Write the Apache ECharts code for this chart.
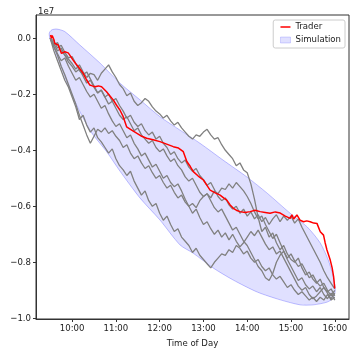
<!DOCTYPE html>
<html lang="en">
<head>
    <meta charset="utf-8">
    <title>Cumulative Wealth</title>
    <script src="https://cdn.jsdelivr.net/npm/echarts@6/dist/echarts.min.js"></script>
    <style>
        html, body { margin: 0; padding: 0; background: #fff; }
        #main { width: 354px; height: 354px; }
    </style>
</head>
<body>
<div id="main"></div>

<script type="text/javascript">
    // time in minutes after midnight, wealth in units of 1e7
    var xTicks = [600, 660, 720, 780, 840, 900, 960];
    var yTicks = [0, -0.2, -0.4, -0.6, -0.8, -1.0];

    // simulation band outline (upper edge forward, lower edge back)
    var simTime = [568.7, 572.1, 579, 590, 610.6, 638, 665.5, 693.1, 720.4, 747.9, 775.3, 806.9, 839.9, 867.3, 898.9, 922.3, 940.1, 951.1, 958, 960.7,
        958, 949.7, 930.5, 912.7, 885.2, 853.6, 820.6, 793.2, 765.7, 747.9, 720.4, 692.9, 665.5, 647.6, 624.3, 601, 583.1, 573.5, 569.4];
    var simWealth = [0.019, 0.030, 0.033, 0.024, -0.024, -0.088, -0.160, -0.220, -0.280, -0.328, -0.375, -0.435, -0.496, -0.553, -0.625, -0.674, -0.731, -0.792, -0.852, -0.899,
        -0.927, -0.942, -0.952, -0.952, -0.934, -0.906, -0.863, -0.820, -0.767, -0.738, -0.649, -0.570, -0.474, -0.406, -0.328, -0.210, -0.088, -0.024, 0.001];

    // simulated paths, one value every 5 minutes from 9:30 to 16:00
    var pathTime = [570, 575, 580, 585, 590, 595, 600, 605, 610, 615, 620, 625, 630, 635, 640, 645, 650, 655, 660, 665,
        670, 675, 680, 685, 690, 695, 700, 705, 710, 715, 720, 725, 730, 735, 740, 745, 750, 755, 760, 765,
        770, 775, 780, 785, 790, 795, 800, 805, 810, 815, 820, 825, 830, 835, 840, 845, 850, 855, 860, 865,
        870, 875, 880, 885, 890, 895, 900, 905, 910, 915, 920, 925, 930, 935, 940, 945, 950, 955, 960];
    var path1 = [0, -0.025, -0.015, -0.045, -0.06, -0.075, -0.09,
        -0.11, -0.095, -0.12, -0.14, -0.125, -0.13,
        -0.15, -0.125, -0.11, -0.095, -0.12, -0.14,
        -0.165, -0.18, -0.205, -0.195, -0.225, -0.24,
        -0.23, -0.215, -0.225, -0.245, -0.26, -0.27,
        -0.285, -0.275, -0.295, -0.31, -0.30, -0.32,
        -0.335, -0.35, -0.36, -0.345, -0.35, -0.335,
        -0.325, -0.345, -0.36, -0.355, -0.38, -0.40,
        -0.415, -0.43, -0.455, -0.445, -0.47, -0.48,
        -0.52, -0.575, -0.64, -0.69, -0.675, -0.71,
        -0.695, -0.73, -0.755, -0.74, -0.77, -0.79,
        -0.80, -0.785, -0.82, -0.845, -0.835, -0.86,
        -0.875, -0.86, -0.89, -0.905, -0.895, -0.92];
    var path2 = [0, -0.045, -0.08, -0.115, -0.15, -0.175, -0.21,
        -0.245, -0.29, -0.275, -0.31, -0.335, -0.32,
        -0.355, -0.37, -0.39, -0.41, -0.395, -0.43,
        -0.455, -0.47, -0.49, -0.475, -0.51, -0.535,
        -0.56, -0.545, -0.58, -0.60, -0.59, -0.625,
        -0.65, -0.635, -0.665, -0.69, -0.68, -0.71,
        -0.725, -0.74, -0.765, -0.75, -0.775, -0.79,
        -0.805, -0.82, -0.80, -0.785, -0.77, -0.775,
        -0.755, -0.765, -0.74, -0.75, -0.77, -0.76,
        -0.785, -0.80, -0.79, -0.815, -0.83, -0.82,
        -0.845, -0.86, -0.85, -0.87, -0.89, -0.88,
        -0.90, -0.915, -0.905, -0.92, -0.935, -0.925,
        -0.94, -0.925, -0.935, -0.915, -0.93, -0.91];
    var path3 = [0, -0.03, -0.06, -0.10, -0.13, -0.165, -0.20,
        -0.235, -0.275, -0.31, -0.345, -0.375, -0.35,
        -0.325, -0.335, -0.32, -0.34, -0.33, -0.35,
        -0.365, -0.39, -0.38, -0.41, -0.43, -0.42,
        -0.445, -0.465, -0.455, -0.48, -0.50, -0.49,
        -0.515, -0.535, -0.525, -0.55, -0.57, -0.56,
        -0.585, -0.60, -0.59, -0.605, -0.58, -0.565,
        -0.555, -0.57, -0.545, -0.555, -0.535, -0.54,
        -0.52, -0.535, -0.515, -0.53, -0.545, -0.565,
        -0.59, -0.62, -0.645, -0.635, -0.665, -0.69,
        -0.715, -0.70, -0.73, -0.76, -0.79, -0.815,
        -0.84, -0.865, -0.855, -0.88, -0.895, -0.885,
        -0.905, -0.89, -0.915, -0.93, -0.91, -0.935];
    var path4 = [0, -0.01, -0.035, -0.025, -0.05, -0.07, -0.065,
        -0.09, -0.115, -0.13, -0.12, -0.145, -0.17,
        -0.195, -0.185, -0.21, -0.235, -0.225, -0.25,
        -0.275, -0.29, -0.28, -0.305, -0.33, -0.32,
        -0.345, -0.36, -0.375, -0.365, -0.39, -0.405,
        -0.395, -0.42, -0.44, -0.43, -0.455, -0.47,
        -0.495, -0.51, -0.50, -0.525, -0.55, -0.565,
        -0.555, -0.58, -0.605, -0.62, -0.61, -0.635,
        -0.66, -0.685, -0.675, -0.70, -0.725, -0.74,
        -0.765, -0.79, -0.815, -0.83, -0.855, -0.865,
        -0.84, -0.80, -0.775, -0.76, -0.785, -0.77,
        -0.795, -0.815, -0.805, -0.83, -0.855, -0.845,
        -0.87, -0.885, -0.875, -0.90, -0.92, -0.90];
    var path5 = [0, -0.02, -0.045, -0.035, -0.06, -0.085, -0.10,
        -0.12, -0.11, -0.135, -0.16, -0.15, -0.175,
        -0.195, -0.185, -0.21, -0.20, -0.225, -0.215,
        -0.24, -0.26, -0.285, -0.275, -0.30, -0.315,
        -0.305, -0.33, -0.345, -0.335, -0.36, -0.35,
        -0.375, -0.39, -0.415, -0.405, -0.43, -0.445,
        -0.435, -0.46, -0.475, -0.465, -0.49, -0.505,
        -0.525, -0.515, -0.54, -0.565, -0.58, -0.57,
        -0.595, -0.61, -0.60, -0.625, -0.61, -0.635,
        -0.62, -0.645, -0.63, -0.655, -0.64, -0.665,
        -0.645, -0.63, -0.655, -0.635, -0.65, -0.635,
        -0.66, -0.645, -0.675, -0.70, -0.725, -0.75,
        -0.775, -0.80, -0.83, -0.855, -0.875, -0.895];
    var path6 = [0, -0.03, -0.055, -0.08, -0.07, -0.10, -0.125,
        -0.15, -0.14, -0.165, -0.19, -0.21, -0.20,
        -0.225, -0.25, -0.24, -0.27, -0.295, -0.315,
        -0.305, -0.33, -0.355, -0.345, -0.375, -0.395,
        -0.42, -0.41, -0.435, -0.46, -0.45, -0.475,
        -0.50, -0.49, -0.515, -0.53, -0.52, -0.545,
        -0.575, -0.60, -0.625, -0.61, -0.64, -0.665,
        -0.655, -0.68, -0.70, -0.685, -0.71, -0.695,
        -0.72, -0.70, -0.725, -0.745, -0.73, -0.71,
        -0.69, -0.705, -0.685, -0.71, -0.735, -0.755,
        -0.745, -0.77, -0.76, -0.785, -0.81, -0.835,
        -0.86, -0.885, -0.90, -0.89, -0.915, -0.93,
        -0.92, -0.905, -0.89, -0.91, -0.935, -0.925];

    // the trader's own cumulative wealth
    var traderTime = [570.4, 571.7, 572.7, 573.9, 575.1, 576.2, 578.4, 580.8, 583.2, 585.4, 588, 590, 592.3, 594.6, 596.8, 601.4, 604.8, 608.2, 611.4, 615.1,
        619.8, 624.3, 627.6, 631.1, 636, 640.4, 643.8, 647.2, 651.6, 656.3, 661.2, 665.5, 670, 674.7, 681.6, 688.4, 695.4, 702.2, 711, 720.4,
        729.6, 738.7, 745.8, 752.4, 757.2, 762, 766.1, 772.8, 779.9, 784.8, 789.1, 796.2, 802.8, 807.6, 812, 816.6, 821, 825.6, 830.3, 837,
        844, 850.8, 857.7, 864.6, 871.4, 878.4, 885.2, 892.2, 898.9, 901.2, 903.6, 908.1, 912.6, 917.2, 921.6, 926.3, 931.2, 935.6, 937.8, 940.1,
        944.6, 946.8, 949.3, 953.8, 956.4, 958.4, 960];
    var traderWealth = [0.012, 0.000, 0.010, 0.006, -0.005, -0.018, -0.015, -0.024, -0.040, -0.054, -0.050, -0.048, -0.042, -0.052, -0.060, -0.078, -0.090, -0.101, -0.112, -0.125,
        -0.148, -0.167, -0.170, -0.173, -0.170, -0.173, -0.182, -0.191, -0.205, -0.220, -0.240, -0.256, -0.280, -0.316, -0.328, -0.339, -0.350, -0.357, -0.362, -0.369,
        -0.378, -0.387, -0.392, -0.405, -0.440, -0.458, -0.476, -0.492, -0.506, -0.525, -0.542, -0.552, -0.560, -0.570, -0.578, -0.595, -0.607, -0.615, -0.619, -0.622,
        -0.619, -0.614, -0.619, -0.622, -0.625, -0.620, -0.624, -0.635, -0.643, -0.630, -0.645, -0.631, -0.650, -0.655, -0.652, -0.655, -0.660, -0.661, -0.668, -0.691,
        -0.703, -0.730, -0.756, -0.792, -0.820, -0.851, -0.893];

    var paths = [path1, path2, path3, path4, path5, path6];
    var font = "'Liberation Sans Narrow', 'DejaVu Sans Condensed', sans-serif";

    function pairs(xs, ys) {
        return xs.map(function (x, i) { return [x, ys[i]]; });
    }

    var series = [{
        name: 'Simulation',
        type: 'custom',
        z: 1,
        itemStyle: { color: 'rgba(0,0,255,0.12)' },
        data: [[simTime[0], simWealth[0]]],
        renderItem: function (params, api) {
            var pts = simTime.map(function (t, i) { return api.coord([t, simWealth[i]]); });
            return {
                type: 'polygon',
                shape: { points: pts, smooth: 0.25 },
                style: { fill: 'rgba(0,0,255,0.12)', stroke: 'rgba(0,0,255,0.3)', lineWidth: 0.8 }
            };
        }
    }];

    paths.forEach(function (p, k) {
        series.push({
            name: 'path' + (k + 1),
            type: 'line',
            z: 2,
            symbol: 'none',
            lineStyle: { color: '#808080', width: 1.3 },
            data: pairs(pathTime, p)
        });
    });

    series.push({
        name: 'Trader',
        type: 'line',
        z: 3,
        symbol: 'none',
        color: '#ff0000',
        lineStyle: { color: '#ff0000', width: 1.5 },
        data: pairs(traderTime, traderWealth)
    });

    var myChart = echarts.init(document.getElementById('main'));

    myChart.setOption({
        animation: false,
        title: {
            text: '1e7',
            left: 33,
            top: 2,
            textStyle: { fontFamily: font, fontSize: 9.5, fontWeight: 'normal', color: '#222' }
        },
        legend: {
            orient: 'vertical',
            right: 9,
            top: 20,
            padding: [2, 4, 3, 7],
            itemGap: 3,
            itemWidth: 10,
            itemHeight: 6,
            borderColor: '#cccccc',
            borderWidth: 1,
            borderRadius: 2,
            backgroundColor: 'rgba(255,255,255,0.8)',
            textStyle: { fontFamily: font, fontSize: 9.5, color: '#222' },
            data: [
                {
                    name: 'Trader',
                    icon: 'path://M0,0L0.01,0ZM0,2.25L10,2.25L10,3.75L0,3.75ZM10,6L9.99,6Z',
                    itemStyle: { color: '#ff0000' }
                },
                { name: 'Simulation', icon: 'rect', itemStyle: { color: 'rgba(0,0,255,0.12)', borderColor: 'rgba(0,0,255,0.3)', borderWidth: 0.5 } }
            ]
        },
        grid: {
            left: 36, right: 5, top: 15, bottom: 35,
            containLabel: false,
            outerBoundsMode: 'none',
            show: true,
            borderColor: '#333',
            borderWidth: 1
        },
        xAxis: {
            type: 'value',
            min: 550.5,
            max: 979.5,
            name: 'Time of Day',
            nameLocation: 'middle',
            nameGap: 17,
            nameTextStyle: { fontFamily: font, fontSize: 9.5, color: '#222' },
            splitLine: { show: false },
            axisLine: { onZero: false, lineStyle: { color: '#333', width: 1 } },
            axisTick: { customValues: xTicks, length: 3, lineStyle: { color: '#333' } },
            axisLabel: {
                customValues: xTicks,
                margin: 5,
                fontFamily: font,
                fontSize: 9.5,
                color: '#222',
                formatter: function (v) { return Math.round(v / 60) + ':00'; }
            }
        },
        yAxis: {
            type: 'value',
            min: -1.0025,
            max: 0.0832,
            name: 'Cumulative Wealth',
            nameLocation: 'middle',
            nameGap: 27,
            nameTextStyle: { fontFamily: 'DejaVu Sans', fontSize: 9, color: '#222' },
            splitLine: { show: false },
            axisLine: { show: true, onZero: false, lineStyle: { color: '#333', width: 1 } },
            axisTick: { show: true, customValues: yTicks, length: 3, lineStyle: { color: '#333' } },
            axisLabel: {
                customValues: yTicks,
                margin: 5,
                fontFamily: font,
                fontSize: 9.5,
                color: '#222',
                formatter: function (v) {
                    var s = Math.abs(v).toFixed(1);
                    return v < -1e-9 ? '\u2212' + s : s;
                }
            }
        },
        series: series
    });
</script>
</body>
</html>
